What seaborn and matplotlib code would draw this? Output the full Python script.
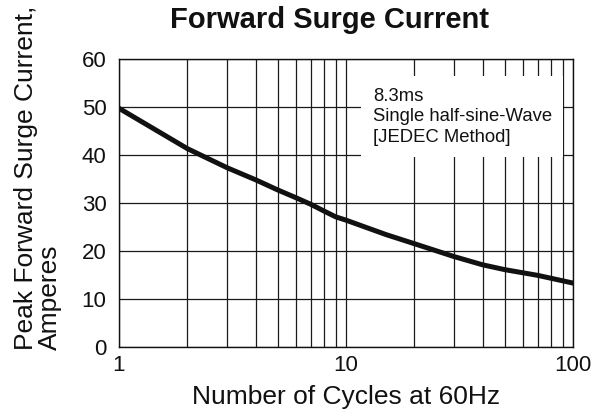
import numpy as np
import pandas as pd
import matplotlib
matplotlib.use("Agg")
import matplotlib.pyplot as plt
import seaborn as sns
from matplotlib.ticker import LogLocator, FixedLocator, FixedFormatter, NullFormatter

# curve
cycles = [1, 2, 3, 4, 5, 6, 7, 8, 9, 10, 15, 20, 30, 40, 50, 70, 100]
current = [49.7, 41.3, 37.3, 34.8, 32.7, 31.1, 29.7, 28.3, 27.1, 26.4,
           23.4, 21.5, 18.8, 17.1, 16.1, 14.9, 13.3]
x_ticks = [1, 10, 100]
x_tick_labels = ["1", "10", "100"]
y_ticks = [0, 10, 20, 30, 40, 50, 60]

df = pd.DataFrame({"cycles": cycles, "current": current})

sns.set_theme(style="white")
plt.rcParams["font.family"] = ["Liberation Sans", "DejaVu Sans"]

fig = plt.figure(figsize=(6.07, 4.17), dpi=100)
ax = fig.add_axes([0.196, 0.168, 0.748, 0.691])

sns.lineplot(data=df, x="cycles", y="current", color="#111111",
             linewidth=3.6, ax=ax, zorder=5)

ax.set_xscale("log")
ax.set_xlim(1, 100)
ax.set_ylim(0, 60)
ax.xaxis.set_major_locator(FixedLocator(x_ticks))
ax.xaxis.set_major_formatter(FixedFormatter(x_tick_labels))
ax.xaxis.set_minor_locator(LogLocator(base=10, subs=np.arange(2, 10)))
ax.xaxis.set_minor_formatter(NullFormatter())
ax.set_yticks(y_ticks)

ax.grid(True, which="both", axis="x", color="#1a1a1a", linewidth=0.9)
ax.grid(True, which="major", axis="y", color="#1a1a1a", linewidth=0.9)
ax.set_axisbelow(True)

for s in ax.spines.values():
    s.set_color("#111111")
    s.set_linewidth(1.0)

ax.tick_params(axis="both", which="both", length=0, labelsize=16, colors="#111111")
ax.tick_params(axis="y", pad=9)
ax.tick_params(axis="x", pad=6)

ax.set_xlabel("Number of Cycles at 60Hz", fontsize=19, color="#111111", labelpad=6)
ax.set_ylabel("")

ax.text(0.559, 0.90, "8.3ms\nSingle half-sine-Wave\n[JEDEC Method]",
        transform=ax.transAxes, ha="left", va="top", fontsize=13.3,
        linespacing=1.27, color="#111111", zorder=4,
        bbox=dict(boxstyle="square,pad=0.62", facecolor="white", edgecolor="none"))

fig.text(0.063, 0.161, "Peak Forward Surge Current,\nAmperes", rotation=90,
         ha="center", va="bottom", multialignment="left", fontsize=19,
         linespacing=1.0, color="#111111")

fig.text(330 / 607, 1 - 20 / 417, "Forward Surge Current", ha="center", va="center",
         fontsize=21, fontweight="bold", color="#111111")

fig.savefig("out.png", dpi=100)
